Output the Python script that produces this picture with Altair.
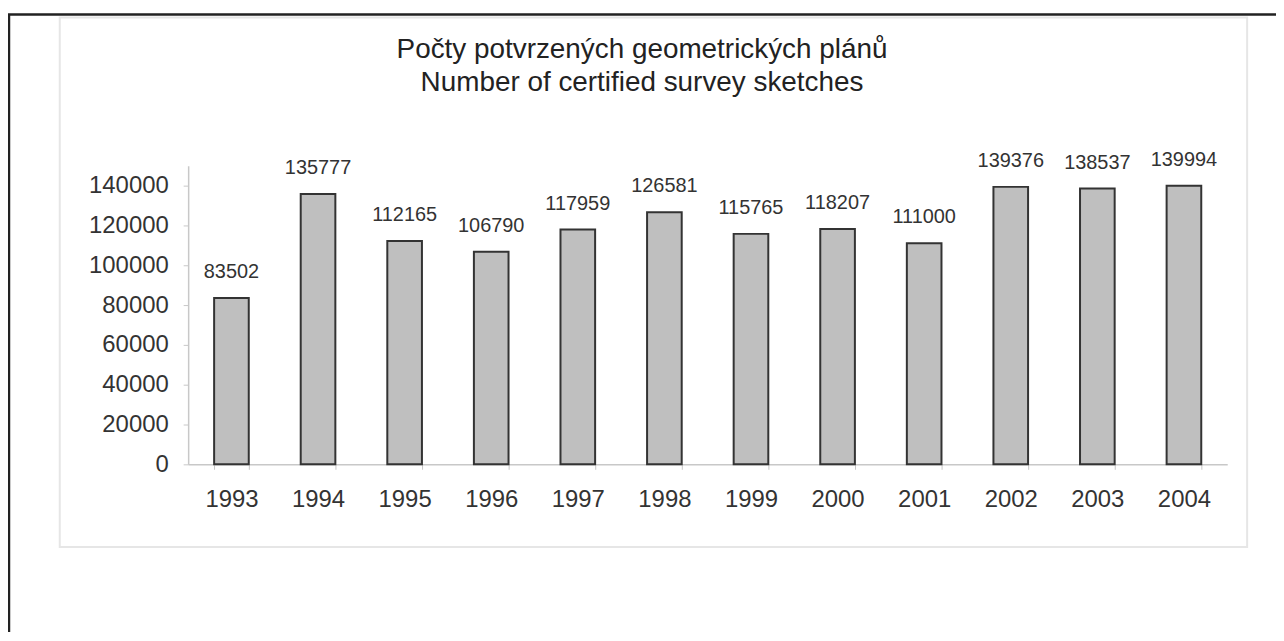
import altair as alt
import pandas as pd

years = ["1993", "1994", "1995", "1996", "1997", "1998", "1999", "2000", "2001", "2002", "2003", "2004"]
counts = [83502, 135777, 112165, 106790, 117959, 126581, 115765, 118207, 111000, 139376, 138537, 139994]
title_lines = ["Počty potvrzených geometrických plánů", "Number of certified survey sketches"]
y_ticks = [0, 20000, 40000, 60000, 80000, 100000, 120000, 140000]
y_max = 150000

df = pd.DataFrame({"year": years, "count": counts})

FONT = "Liberation Sans"
W, H = 1044, 300
AXIS_GRAY = "#c8c8c8"
TEXT = "#333333"

x_enc = alt.X(
    "year:N", sort=years,
    scale=alt.Scale(paddingInner=0.6, paddingOuter=0.3),
    axis=alt.Axis(title=None, labelAngle=0, labelFontSize=24, labelColor=TEXT, labelFont=FONT,
                  labelPadding=18, tickSize=5, tickColor=AXIS_GRAY, tickBand="extent",
                  domainColor=AXIS_GRAY, domainWidth=1.5, grid=False),
)
y_enc = alt.Y(
    "count:Q",
    scale=alt.Scale(domain=[0, y_max], nice=False, zero=True),
    axis=alt.Axis(title=None, values=y_ticks, format="d", labelFontSize=24, labelColor=TEXT,
                  labelFont=FONT, labelPadding=15, tickSize=5, tickColor=AXIS_GRAY,
                  domainColor=AXIS_GRAY, domainWidth=1.5, grid=False),
)

frame_data = alt.Data(values=[{"k": 0}])

outer_border = alt.Chart(frame_data).mark_rect(fill="transparent", stroke="#222222", strokeWidth=2.5).encode(
    x=alt.value(-180), x2=alt.value(1110), y=alt.value(-152), y2=alt.value(480)
)
inner_frame = alt.Chart(frame_data).mark_rect(fill="transparent", stroke="#e6e6e6", strokeWidth=2).encode(
    x=alt.value(-129), x2=alt.value(1064), y=alt.value(-149), y2=alt.value(383)
)
title_text = alt.Chart(frame_data).mark_text(
    text=title_lines, lineHeight=33, baseline="alphabetic", align="center",
    fontSize=28, font=FONT, color="#222222"
).encode(x=alt.value(456), y=alt.value(-108))

bars = alt.Chart(df).mark_bar(fill="#bfbfbf", stroke="#333333", strokeWidth=2).encode(x=x_enc, y=y_enc)

labels = alt.Chart(df).mark_text(
    baseline="alphabetic", dy=-20, fontSize=20, font=FONT, color=TEXT
).encode(
    x=alt.X("year:N", sort=years),
    y=alt.Y("count:Q"),
    text=alt.Text("count:Q", format="d"),
)

chart = alt.layer(outer_border, inner_frame, title_text, bars, labels).properties(
    width=W, height=H,
    autosize=alt.AutoSizeParams(type="none"),
    padding={"left": 181, "top": 157, "right": 49, "bottom": 167},
    background="white",
).configure_view(stroke=None)

chart.save("out.html", embed_options={"renderer": "svg", "actions": False})
